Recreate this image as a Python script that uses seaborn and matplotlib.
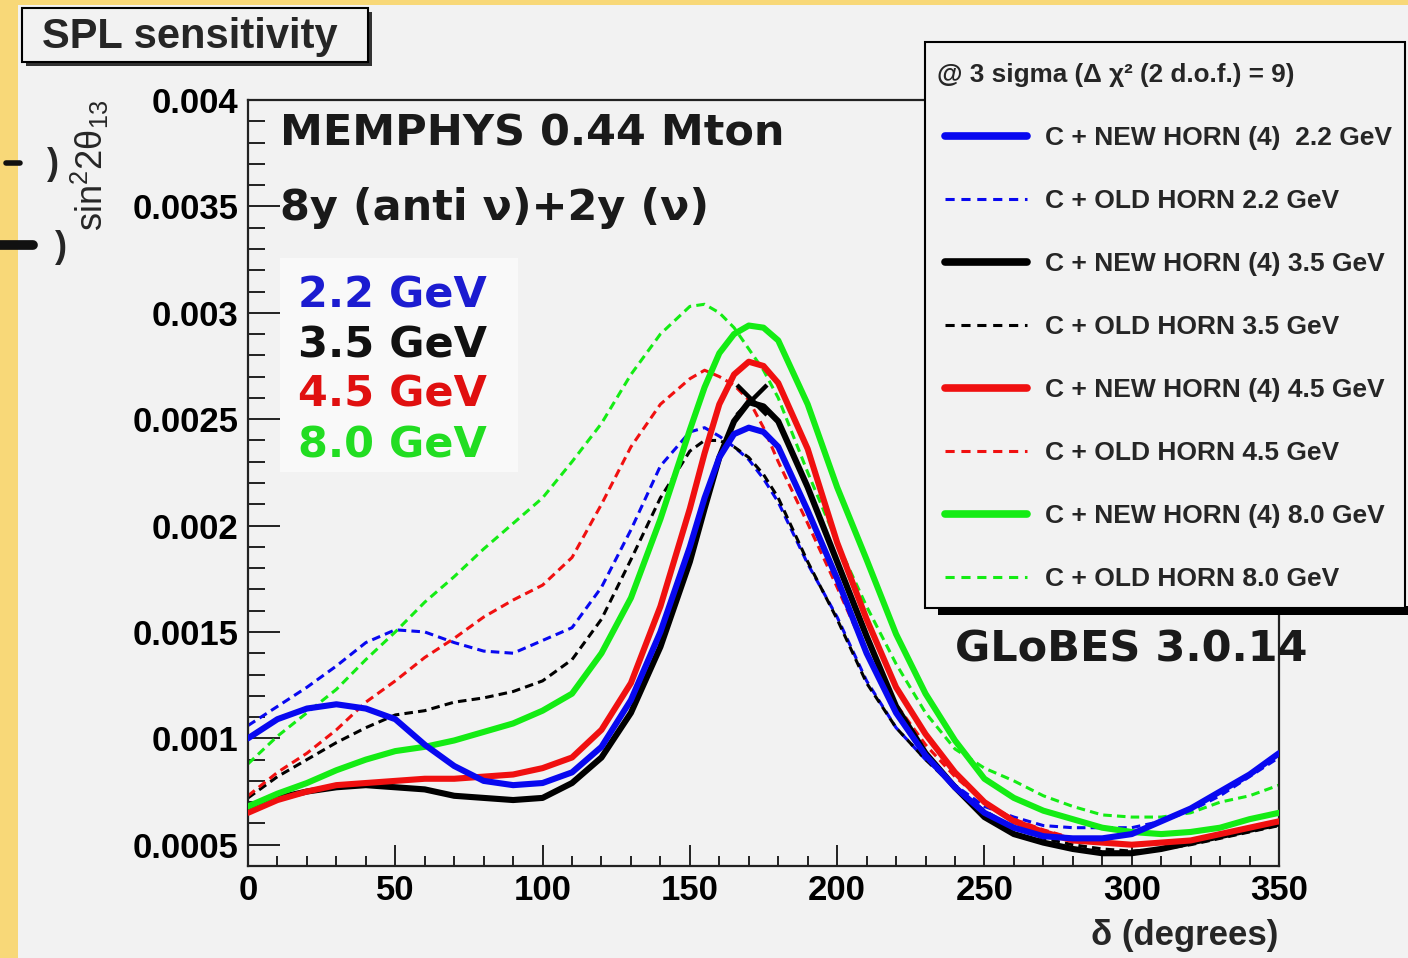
import numpy as np
import pandas as pd
import matplotlib
matplotlib.use("Agg")
import matplotlib.pyplot as plt
from matplotlib.lines import Line2D
from matplotlib.patches import Rectangle
import seaborn as sns

# ---------------- data ----------------
delta = [0, 10, 20, 30, 40, 50, 60, 70, 80, 90, 100, 110, 120, 130, 140, 150, 155, 160,
         165, 170, 175, 180, 190, 200, 210, 220, 230, 240, 250, 260, 270, 280, 290, 300,
         310, 320, 330, 340, 350]

new_22 = [1.00, 1.09, 1.14, 1.16, 1.14, 1.09, 0.97, 0.87, 0.80, 0.78, 0.79, 0.84, 0.96, 1.18,
          1.50, 1.90, 2.13, 2.32, 2.43, 2.46, 2.44, 2.37, 2.07, 1.75, 1.40, 1.12, 0.92, 0.77,
          0.65, 0.58, 0.54, 0.53, 0.53, 0.55, 0.61, 0.67, 0.75, 0.83, 0.93]
old_22 = [1.06, 1.15, 1.24, 1.34, 1.45, 1.51, 1.50, 1.45, 1.41, 1.40, 1.46, 1.52, 1.71, 1.98,
          2.28, 2.44, 2.46, 2.42, 2.37, 2.31, 2.22, 2.11, 1.82, 1.57, 1.27, 1.05, 0.90, 0.78,
          0.68, 0.63, 0.59, 0.58, 0.58, 0.58, 0.61, 0.66, 0.73, 0.82, 0.91]
new_35 = [0.66, 0.72, 0.75, 0.77, 0.78, 0.77, 0.76, 0.73, 0.72, 0.71, 0.72, 0.79, 0.91, 1.12,
          1.43, 1.83, 2.08, 2.32, 2.49, 2.58, 2.56, 2.49, 2.18, 1.83, 1.48, 1.15, 0.93, 0.77,
          0.63, 0.55, 0.51, 0.48, 0.46, 0.46, 0.48, 0.51, 0.54, 0.57, 0.60]
old_35 = [0.72, 0.82, 0.90, 0.98, 1.05, 1.11, 1.13, 1.17, 1.19, 1.22, 1.27, 1.37, 1.56, 1.84,
          2.13, 2.35, 2.40, 2.40, 2.37, 2.32, 2.24, 2.13, 1.83, 1.56, 1.26, 1.05, 0.90, 0.77,
          0.66, 0.58, 0.53, 0.50, 0.48, 0.47, 0.48, 0.50, 0.53, 0.56, 0.59]
new_45 = [0.65, 0.71, 0.75, 0.78, 0.79, 0.80, 0.81, 0.81, 0.82, 0.83, 0.86, 0.91, 1.04, 1.26,
          1.62, 2.08, 2.34, 2.57, 2.71, 2.77, 2.75, 2.67, 2.36, 1.92, 1.56, 1.24, 1.02, 0.84,
          0.70, 0.61, 0.56, 0.52, 0.51, 0.50, 0.51, 0.52, 0.55, 0.58, 0.61]
old_45 = [0.73, 0.84, 0.93, 1.04, 1.17, 1.27, 1.38, 1.47, 1.57, 1.65, 1.72, 1.85, 2.10, 2.37,
          2.57, 2.69, 2.73, 2.70, 2.66, 2.59, 2.46, 2.30, 2.01, 1.71, 1.40, 1.16, 0.97, 0.82,
          0.70, 0.62, 0.57, 0.53, 0.51, 0.50, 0.51, 0.52, 0.55, 0.58, 0.61]
new_80 = [0.68, 0.74, 0.79, 0.85, 0.90, 0.94, 0.96, 0.99, 1.03, 1.07, 1.13, 1.21, 1.40, 1.66,
          2.03, 2.45, 2.65, 2.81, 2.90, 2.94, 2.93, 2.87, 2.57, 2.18, 1.84, 1.49, 1.21, 0.99,
          0.81, 0.72, 0.66, 0.62, 0.58, 0.56, 0.55, 0.56, 0.58, 0.62, 0.65]
old_80 = [0.88, 1.01, 1.12, 1.23, 1.37, 1.50, 1.64, 1.76, 1.89, 2.01, 2.13, 2.30, 2.48, 2.71,
          2.90, 3.03, 3.04, 3.00, 2.93, 2.83, 2.73, 2.60, 2.25, 1.92, 1.62, 1.35, 1.12, 0.95,
          0.86, 0.80, 0.73, 0.68, 0.64, 0.63, 0.63, 0.65, 0.70, 0.73, 0.78]
value_scale = 1e-3

best_fit_delta = [171]
best_fit_value = [2.59]

series_labels = ["C + NEW HORN (4)  2.2 GeV", "C + OLD HORN 2.2 GeV",
                 "C + NEW HORN (4) 3.5 GeV", "C + OLD HORN 3.5 GeV",
                 "C + NEW HORN (4) 4.5 GeV", "C + OLD HORN 4.5 GeV",
                 "C + NEW HORN (4) 8.0 GeV", "C + OLD HORN 8.0 GeV"]
series_values = [new_22, old_22, new_35, old_35, new_45, old_45, new_80, old_80]

energy_labels = ["2.2 GeV", "3.5 GeV", "4.5 GeV", "8.0 GeV"]
x_ticks = [0, 50, 100, 150, 200, 250, 300, 350]
y_ticks = [0.0005, 0.001, 0.0015, 0.002, 0.0025, 0.003, 0.0035, 0.004]
y_tick_labels = ["0.0005", "0.001", "0.0015", "0.002", "0.0025", "0.003", "0.0035", "0.004"]

# ---------------- style ----------------
sns.set_style("ticks")
plt.rcParams['font.family'] = ['Liberation Sans', 'DejaVu Sans']
plt.rcParams['mathtext.fontset'] = 'custom'
plt.rcParams['mathtext.rm'] = 'Liberation Sans'
plt.rcParams['mathtext.it'] = 'Liberation Sans'
plt.rcParams['mathtext.bf'] = 'Liberation Sans:bold'

BG = '#f2f2f2'
BLUE, BLACK, RED, GREEN = '#0808f0', '#000000', '#f01010', '#14ec14'
series_colors = [BLUE, BLUE, BLACK, BLACK, RED, RED, GREEN, GREEN]
series_solid = [True, False, True, False, True, False, True, False]

W, H = 1408, 958
fig = plt.figure(figsize=(W / 100, H / 100), dpi=100, facecolor='#f8d878')
fx = lambda px: px / W
fy = lambda py: 1 - py / H

# canvas gray over the yellow border
fig.patches.append(Rectangle((fx(18), 0), 1 - fx(18), fy(5), transform=fig.transFigure,
                             facecolor=BG, edgecolor='none', zorder=-10))

ax = fig.add_axes([fx(248), fy(866), fx(1279) - fx(248), fy(100) - fy(866)])
ax.set_facecolor(BG)

order_draw = [1, 3, 5, 7, 2, 4, 6, 0]
for i in order_draw:
    vals = np.array(series_values[i]) * value_scale
    if series_solid[i]:
        sns.lineplot(x=delta, y=vals, ax=ax, color=series_colors[i], linewidth=4.4,
                     zorder=3, sort=True)
        ax.lines[-1].set_solid_joinstyle('round')
    else:
        sns.lineplot(x=delta, y=vals, ax=ax, color=series_colors[i], linewidth=2.2,
                     zorder=2, sort=True)
        ax.lines[-1].set_dashes((2.8, 1.7))

ax.plot(best_fit_delta, np.array(best_fit_value) * value_scale, marker='x', color='black',
        markersize=22, mew=3.2, linestyle='none', zorder=4)

ax.set_xlim(0, 350)
ax.set_ylim(0.0004, 0.004)
ax.set_xticks(x_ticks)
ax.set_xticklabels([str(t) for t in x_ticks])
ax.set_xticks(np.arange(0, 351, 10), minor=True)
ax.set_yticks(y_ticks)
ax.set_yticklabels(y_tick_labels)
ax.set_yticks(np.arange(0.0004, 0.00401, 0.0001), minor=True)
ax.tick_params(axis='both', which='both', direction='in', colors='#222222',
               labelcolor='black', width=1.4)
ax.tick_params(axis='y', which='major', length=23, pad=7, labelsize=25)
ax.tick_params(axis='y', which='minor', length=12)
ax.tick_params(axis='x', which='major', length=15, pad=6, labelsize=25)
ax.tick_params(axis='x', which='minor', length=7.5)
for lab in ax.get_xticklabels() + ax.get_yticklabels():
    lab.set_fontweight('bold')
for sp in ax.spines.values():
    sp.set_visible(True)
    sp.set_linewidth(1.6)
    sp.set_color('#222222')
ax.set_xlabel("")
ax.set_ylabel("")

# ---------------- legend ----------------
# frame + shadow
ax.add_patch(Rectangle((fx(938), fy(615)), fx(1408) - fx(938), fy(606) - fy(615),
                       transform=fig.transFigure, facecolor='black', edgecolor='none',
                       clip_on=False, zorder=8))
ax.add_patch(Rectangle((fx(925), fy(608)), fx(1405) - fx(925), fy(42) - fy(608),
                       transform=fig.transFigure, facecolor=BG, edgecolor='black',
                       linewidth=1.5, clip_on=False, zorder=9))
ax.text(fx(937), fy(75), "@ 3 sigma (Δ χ² (2 d.o.f.) = 9)", transform=fig.transFigure,
        fontsize=18.8, fontweight='bold', va='center', ha='left', zorder=11)

leg_handles = []
for i in range(8):
    if series_solid[i]:
        h = Line2D([], [], color=series_colors[i], linewidth=5.5)
    else:
        h = Line2D([], [], color=series_colors[i], linewidth=2.2, dashes=(3.0, 2.2))
    leg_handles.append(h)
leg = ax.legend(leg_handles, series_labels,
                loc='upper left', bbox_to_anchor=(fx(945), fy(126)),
                bbox_transform=fig.transFigure, borderaxespad=0, borderpad=0,
                prop={'family': 'Liberation Sans', 'weight': 'bold', 'size': 19},
                frameon=False, handlelength=3.1, handletextpad=0.68, labelspacing=1.48)
leg.set_zorder(10)

# ---------------- texts ----------------
dj = {'family': 'DejaVu Sans', 'weight': 'bold'}
fig.text(fx(280), fy(145), "MEMPHYS 0.44 Mton", fontsize=31, color='#1a1a1a', va='baseline', **dj)
fig.text(fx(280), fy(220), "8y (anti ν)+2y (ν)", fontsize=31, color='#1a1a1a', va='baseline', **dj)
fig.text(fx(955), fy(662), "GLoBES 3.0.14", fontsize=31, color='#1a1a1a', va='baseline', **dj)

ax.add_patch(Rectangle((fx(280), fy(472)), fx(518) - fx(280), fy(258) - fy(472),
                       transform=fig.transFigure, facecolor='#f9f9f9', edgecolor='none',
                       clip_on=False, zorder=1))
energy_colors = ['#1c1cd0', '#111111', '#e01010', '#22dd22']
energy_base = [307, 357, 407, 458]
for lab, col, yb in zip(energy_labels, energy_colors, energy_base):
    fig.text(fx(298), fy(yb), lab, fontsize=31, color=col, va='baseline', **dj)

fig.text(fx(1278), fy(945), "δ (degrees)", fontsize=25, fontweight='bold', ha='right', va='baseline')
fig.text(fx(90), fy(100), r'sin$^{2}$2θ$_{13}$', fontsize=26, rotation=90,
         ha='center', va='top')

# title box
fig.patches.append(Rectangle((fx(26), fy(66)), fx(372) - fx(26), fy(12) - fy(66),
                             transform=fig.transFigure, facecolor='#333333', edgecolor='none', zorder=1))
fig.patches.append(Rectangle((fx(22), fy(62)), fx(368) - fx(22), fy(8) - fy(62),
                             transform=fig.transFigure, facecolor=BG, edgecolor='black',
                             linewidth=1.5, zorder=2))
fig.text(fx(42), fy(48), "SPL sensitivity", fontsize=30, fontweight='bold', va='baseline', zorder=3)

# clipped remnants at the left edge
fig.text(fx(47), fy(165), ")", fontsize=26, fontweight='bold', va='center')
fig.text(fx(55), fy(248), ")", fontsize=26, fontweight='bold', va='center')
fig.lines.append(Line2D([fx(6), fx(20)], [fy(163), fy(163)], transform=fig.transFigure,
                        color='#111111', linewidth=4))
fig.lines.append(Line2D([fx(0), fx(33)], [fy(245), fy(245)], transform=fig.transFigure,
                        color='#111111', linewidth=7))

fig.savefig("out.png", dpi=100, facecolor=fig.get_facecolor())
